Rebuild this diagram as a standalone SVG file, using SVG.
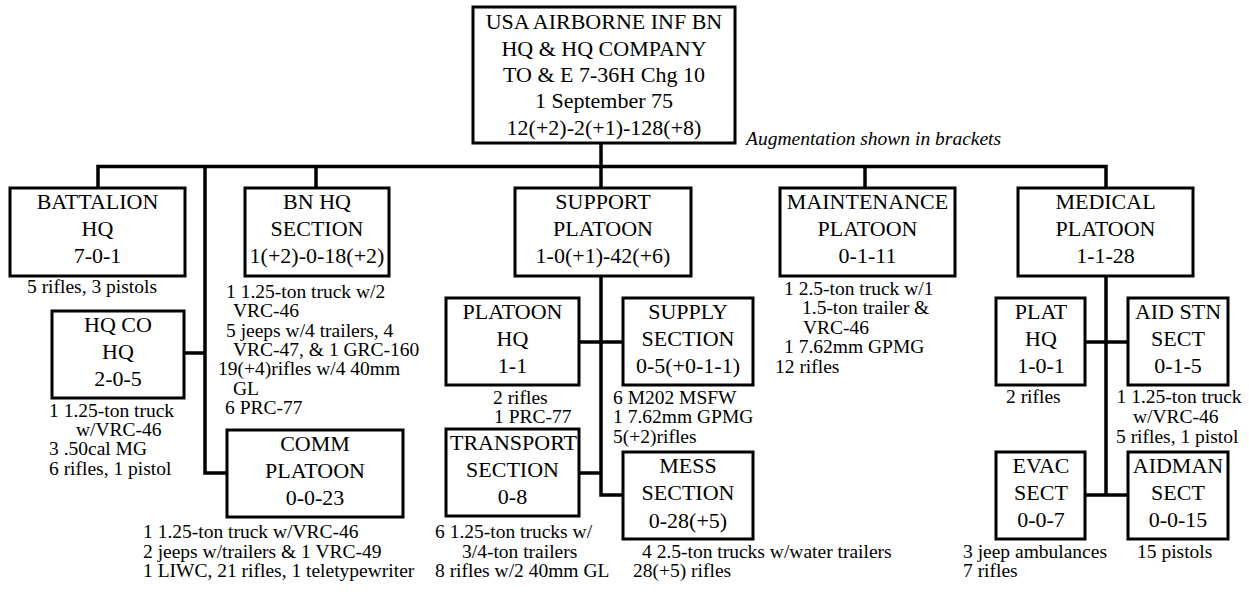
<svg xmlns="http://www.w3.org/2000/svg" width="1249" height="601" viewBox="0 0 1249 601">
<style>
.box{fill:#fff;stroke:#000;stroke-width:3}
.c{fill:none;stroke:#000;stroke-width:3.5}
.t{font-family:"Liberation Serif","Times New Roman",serif;font-size:22px;text-anchor:middle;fill:#000}
.n{font-family:"Liberation Serif","Times New Roman",serif;font-size:19.5px;fill:#000}
.i{font-style:italic}
</style>
<rect width="1249" height="601" fill="#fff"/>
<g id="connectors">
<path class="c" d="M601 143V166.5"/>
<path class="c" d="M98 188V166.5H1106V188"/>
<path class="c" d="M316 166.5V188"/>
<path class="c" d="M601 166.5V188"/>
<path class="c" d="M865 166.5V188"/>
<path class="c" d="M205 166.5V473H227"/>
<path class="c" d="M184 353H205"/>
<path class="c" d="M601 276V495H623"/>
<path class="c" d="M579 342H623"/>
<path class="c" d="M579 473H601"/>
<path class="c" d="M1106 276V495"/>
<path class="c" d="M1085 342H1128"/>
<path class="c" d="M1085 495H1128"/>
</g>
<g id="top">
<rect class="box" x="473" y="7" width="262" height="136"/>
<text class="t" x="604" y="29">USA AIRBORNE INF BN</text>
<text class="t" x="604" y="55.5">HQ &amp; HQ COMPANY</text>
<text class="t" x="604" y="82">TO &amp; E 7-36H Chg 10</text>
<text class="t" x="604" y="108.3">1 September 75</text>
<text class="t" x="604" y="134.5">12(+2)-2(+1)-128(+8)</text>
</g>
<g id="note-augmentation">
<text class="n i" x="746" y="145">Augmentation shown in brackets</text>
</g>
<g id="battalion-hq">
<rect class="box" x="10" y="188" width="175" height="88"/>
<text class="t" x="97.5" y="209">BATTALION</text>
<text class="t" x="97.5" y="236">HQ</text>
<text class="t" x="97.5" y="263">7-0-1</text>
<text class="n" x="27" y="293">5 rifles, 3 pistols</text>
</g>
<g id="hq-co-hq">
<rect class="box" x="52" y="311" width="132" height="87"/>
<text class="t" x="118" y="332">HQ CO</text>
<text class="t" x="118" y="359">HQ</text>
<text class="t" x="118" y="386">2-0-5</text>
<text class="n" x="49" y="416.7">1 1.25-ton truck</text>
<text class="n" x="76" y="436">w/VRC-46</text>
<text class="n" x="49" y="455.3">3 .50cal MG</text>
<text class="n" x="49" y="474.6">6 rifles, 1 pistol</text>
</g>
<g id="bn-hq-section">
<rect class="box" x="245" y="188" width="144" height="88"/>
<text class="t" x="317" y="209">BN HQ</text>
<text class="t" x="317" y="236">SECTION</text>
<text class="t" x="317" y="263">1(+2)-0-18(+2)</text>
<text class="n" x="226" y="298">1 1.25-ton truck w/2</text>
<text class="n" x="233" y="317.3">VRC-46</text>
<text class="n" x="226" y="336.6">5 jeeps w/4 trailers, 4</text>
<text class="n" x="233" y="356">VRC-47, &amp; 1 GRC-160</text>
<text class="n" x="218" y="375.3">19(+4)rifles w/4 40mm</text>
<text class="n" x="233" y="394.6">GL</text>
<text class="n" x="225" y="414">6 PRC-77</text>
</g>
<g id="comm-platoon">
<rect class="box" x="227" y="430" width="176" height="87"/>
<text class="t" x="315" y="451">COMM</text>
<text class="t" x="315" y="478">PLATOON</text>
<text class="t" x="315" y="505">0-0-23</text>
<text class="n" x="143" y="538">1 1.25-ton truck w/VRC-46</text>
<text class="n" x="143" y="557.5">2 jeeps w/trailers &amp; 1 VRC-49</text>
<text class="n" x="143" y="577">1 LIWC, 21 rifles, 1 teletypewriter</text>
</g>
<g id="support-platoon">
<rect class="box" x="515" y="188" width="176" height="88"/>
<text class="t" x="603" y="209">SUPPORT</text>
<text class="t" x="603" y="236">PLATOON</text>
<text class="t" x="603" y="263">1-0(+1)-42(+6)</text>
</g>
<g id="platoon-hq">
<rect class="box" x="446" y="298" width="133" height="87"/>
<text class="t" x="512.5" y="319">PLATOON</text>
<text class="t" x="512.5" y="346">HQ</text>
<text class="t" x="512.5" y="373">1-1</text>
<text class="n" x="493" y="404">2 rifles</text>
<text class="n" x="494" y="423.3">1 PRC-77</text>
</g>
<g id="supply-section">
<rect class="box" x="623" y="298" width="130" height="87"/>
<text class="t" x="688" y="319">SUPPLY</text>
<text class="t" x="688" y="346">SECTION</text>
<text class="t" x="688" y="373">0-5(+0-1-1)</text>
<text class="n" x="613" y="404">6 M202 MSFW</text>
<text class="n" x="613" y="423.3">1 7.62mm GPMG</text>
<text class="n" x="613" y="442.6">5(+2)rifles</text>
</g>
<g id="transport-section">
<rect class="box" x="446" y="429" width="133" height="87"/>
<text class="t" x="513.5" y="450">TRANSPORT</text>
<text class="t" x="512.5" y="477">SECTION</text>
<text class="t" x="512.5" y="504">0-8</text>
<text class="n" x="435" y="538">6 1.25-ton trucks w/</text>
<text class="n" x="462" y="557.5">3/4-ton trailers</text>
<text class="n" x="435" y="577">8 rifles w/2 40mm GL</text>
</g>
<g id="mess-section">
<rect class="box" x="623" y="452" width="130" height="87"/>
<text class="t" x="688" y="473">MESS</text>
<text class="t" x="688" y="500">SECTION</text>
<text class="t" x="688" y="527.5">0-28(+5)</text>
<text class="n" x="642" y="557.5">4 2.5-ton trucks w/water trailers</text>
<text class="n" x="633" y="577">28(+5) rifles</text>
</g>
<g id="maintenance-platoon">
<rect class="box" x="780" y="188" width="175" height="88"/>
<text class="t" x="867.5" y="209">MAINTENANCE</text>
<text class="t" x="867.5" y="236">PLATOON</text>
<text class="t" x="867.5" y="263">0-1-11</text>
<text class="n" x="784" y="294.5">1 2.5-ton truck w/1</text>
<text class="n" x="802" y="314">1.5-ton trailer &amp;</text>
<text class="n" x="803" y="333.5">VRC-46</text>
<text class="n" x="784" y="353">1 7.62mm GPMG</text>
<text class="n" x="775" y="372.5">12 rifles</text>
</g>
<g id="medical-platoon">
<rect class="box" x="1018" y="188" width="175" height="88"/>
<text class="t" x="1105.5" y="209">MEDICAL</text>
<text class="t" x="1105.5" y="236">PLATOON</text>
<text class="t" x="1105.5" y="263">1-1-28</text>
</g>
<g id="plat-hq">
<rect class="box" x="996" y="298" width="89" height="87"/>
<text class="t" x="1041" y="319">PLAT</text>
<text class="t" x="1041" y="346">HQ</text>
<text class="t" x="1041" y="373">1-0-1</text>
<text class="n" x="1006" y="403.3">2 rifles</text>
</g>
<g id="aid-stn-sect">
<rect class="box" x="1128" y="298" width="100" height="87"/>
<text class="t" x="1178" y="319">AID STN</text>
<text class="t" x="1178" y="346">SECT</text>
<text class="t" x="1178" y="373">0-1-5</text>
<text class="n" x="1116.5" y="403.3">1 1.25-ton truck</text>
<text class="n" x="1133" y="422.7">w/VRC-46</text>
<text class="n" x="1116" y="442.5">5 rifles, 1 pistol</text>
</g>
<g id="evac-sect">
<rect class="box" x="996" y="452" width="89" height="87"/>
<text class="t" x="1041" y="473">EVAC</text>
<text class="t" x="1041" y="500">SECT</text>
<text class="t" x="1041" y="527">0-0-7</text>
<text class="n" x="963" y="558">3 jeep ambulances</text>
<text class="n" x="963" y="577">7 rifles</text>
</g>
<g id="aidman-sect">
<rect class="box" x="1128" y="452" width="100" height="87"/>
<text class="t" x="1178" y="473">AIDMAN</text>
<text class="t" x="1178" y="500">SECT</text>
<text class="t" x="1178" y="527">0-0-15</text>
<text class="n" x="1137" y="558">15 pistols</text>
</g>
</svg>
